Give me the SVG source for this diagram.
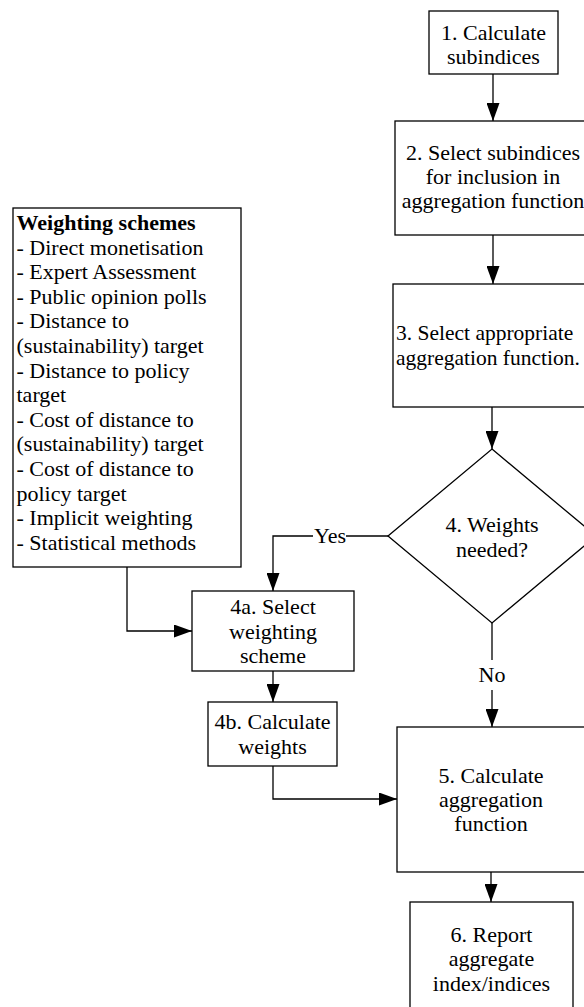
<svg xmlns="http://www.w3.org/2000/svg" width="584" height="1007" viewBox="0 0 584 1007">
<style>
.box{fill:#fff;stroke:#000;stroke-width:1.3}
.c{fill:none;stroke:#000;stroke-width:1.3}
text{font-family:"Liberation Serif","Times New Roman",Times,serif;font-size:22px;fill:#000}
.m{text-anchor:middle}
.b{font-weight:bold}
.s{font-size:21.5px}
</style>
<defs>
<marker id="ah" viewBox="0 0 18 13" refX="18" refY="6.5" markerWidth="18" markerHeight="13" markerUnits="userSpaceOnUse" orient="auto">
<path d="M0,0 L18,6.5 L0,13 Z" fill="#000"/>
</marker>
</defs>
<rect width="584" height="1007" fill="#fff"/>
<g id="connectors">
<line class="c" x1="493" y1="74" x2="493" y2="121" marker-end="url(#ah)"/>
<line class="c" x1="493" y1="235" x2="493" y2="284" marker-end="url(#ah)"/>
<line class="c" x1="492" y1="407" x2="492" y2="449" marker-end="url(#ah)"/>
<polyline class="c" points="388,536 346,536"/>
<polyline class="c" points="313,536 273,536 273,591" marker-end="url(#ah)"/>
<line class="c" x1="492" y1="623" x2="492" y2="660"/>
<line class="c" x1="492" y1="690" x2="492" y2="727" marker-end="url(#ah)"/>
<polyline class="c" points="127,567 127,631 192,631" marker-end="url(#ah)"/>
<line class="c" x1="273" y1="671" x2="273" y2="702" marker-end="url(#ah)"/>
<polyline class="c" points="273,766 273,799 397,799" marker-end="url(#ah)"/>
<line class="c" x1="491" y1="872" x2="491" y2="902" marker-end="url(#ah)"/>
<text class="m" x="330" y="543">Yes</text>
<text class="m" x="492" y="682">No</text>
</g>
<g id="n1">
<rect class="box" x="429" y="11" width="129" height="63"/>
<text class="m" x="493.5" y="39.5">1. Calculate</text>
<text class="m" x="493.5" y="63.5">subindices</text>
</g>
<g id="n2">
<rect class="box" x="395" y="121" width="196" height="114"/>
<text class="m" x="493" y="160">2. Select subindices</text>
<text class="m" x="493" y="184">for inclusion in</text>
<text class="m" x="493" y="208">aggregation function</text>
</g>
<g id="n3">
<rect class="box" x="393" y="284" width="200" height="123"/>
<text class="s" x="396" y="340">3. Select appropriate</text>
<text class="s" x="396" y="365">aggregation function.</text>
</g>
<g id="n4">
<polygon class="box" points="492,449 596,536 492,623 388,536"/>
<text class="m" x="492" y="532">4. Weights</text>
<text class="m" x="492" y="557">needed?</text>
</g>
<g id="ws">
<rect class="box" x="13" y="208" width="228" height="359"/>
<text class="b" x="16.5" y="230">Weighting schemes</text>
<text x="16.5" y="254.6">- Direct monetisation</text>
<text x="16.5" y="279.2">- Expert Assessment</text>
<text x="16.5" y="303.8">- Public opinion polls</text>
<text x="16.5" y="328.4">- Distance to</text>
<text x="16.5" y="353">(sustainability) target</text>
<text x="16.5" y="377.6">- Distance to policy</text>
<text x="16.5" y="402.2">target</text>
<text x="16.5" y="426.8">- Cost of distance to</text>
<text x="16.5" y="451.4">(sustainability) target</text>
<text x="16.5" y="476">- Cost of distance to</text>
<text x="16.5" y="500.6">policy target</text>
<text x="16.5" y="525.2">- Implicit weighting</text>
<text x="16.5" y="549.8">- Statistical methods</text>
</g>
<g id="n4a">
<rect class="box" x="192" y="591" width="162" height="80"/>
<text class="m" x="273" y="614">4a. Select</text>
<text class="m" x="273" y="639">weighting</text>
<text class="m" x="273" y="663">scheme</text>
</g>
<g id="n4b">
<rect class="box" x="208" y="702" width="129" height="64"/>
<text class="m" x="272.5" y="729">4b. Calculate</text>
<text class="m" x="272.5" y="754">weights</text>
</g>
<g id="n5">
<rect class="box" x="397" y="727" width="188" height="145"/>
<text class="m" x="491" y="783">5. Calculate</text>
<text class="m" x="491" y="807">aggregation</text>
<text class="m" x="491" y="831">function</text>
</g>
<g id="n6">
<rect class="box" x="410" y="902" width="163" height="115"/>
<text class="m" x="491.5" y="942">6. Report</text>
<text class="m" x="491.5" y="966">aggregate</text>
<text class="m" x="491.5" y="991">index/indices</text>
</g>
</svg>
